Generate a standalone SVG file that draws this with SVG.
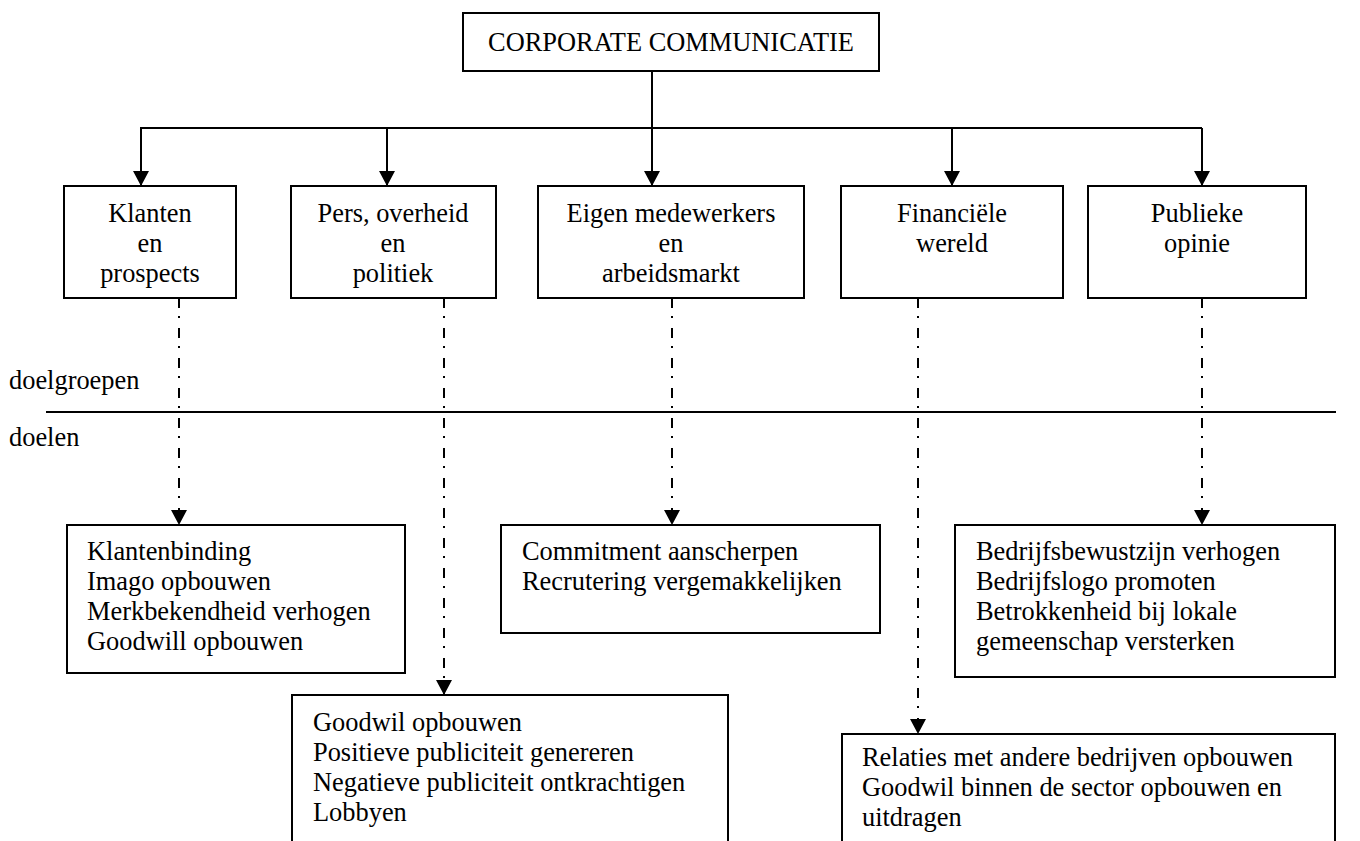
<svg xmlns="http://www.w3.org/2000/svg" width="1360" height="841" viewBox="0 0 1360 841">
<style>
  .box { fill: #fff; stroke: #000; stroke-width: 2; }
  .t { font-family: "Liberation Serif", "Times New Roman", "DejaVu Serif", serif; font-size: 26.4px; fill: #000; }
  .c { text-anchor: middle; }
  .solid { fill: none; stroke: #000; stroke-width: 2; }
  .dd { fill: none; stroke: #000; stroke-width: 2; stroke-dasharray: 10 8 2 10; }
</style>
<defs>
  <marker id="ah" markerUnits="userSpaceOnUse" markerWidth="16" markerHeight="16" refX="15" refY="8" orient="auto" viewBox="0 0 16 16">
    <path d="M0,0 L15,8 L0,16 z" fill="#000"/>
  </marker>
</defs>
<rect width="1360" height="841" fill="#fff"/>

<g id="connectors">
  <line class="solid" x1="652" y1="71" x2="652" y2="128"/>
  <line class="solid" x1="140" y1="128" x2="1202" y2="128"/>
  <line class="solid" x1="141" y1="128" x2="141" y2="186" marker-end="url(#ah)"/>
  <line class="solid" x1="387" y1="128" x2="387" y2="186" marker-end="url(#ah)"/>
  <line class="solid" x1="652" y1="128" x2="652" y2="186" marker-end="url(#ah)"/>
  <line class="solid" x1="952" y1="128" x2="952" y2="186" marker-end="url(#ah)"/>
  <line class="solid" x1="1202" y1="128" x2="1202" y2="186" marker-end="url(#ah)"/>
  <line class="dd" x1="179" y1="298" x2="179" y2="525" marker-end="url(#ah)"/>
  <line class="dd" x1="444" y1="298" x2="444" y2="695" marker-end="url(#ah)"/>
  <line class="dd" x1="672" y1="298" x2="672" y2="525" marker-end="url(#ah)"/>
  <line class="dd" x1="918" y1="298" x2="918" y2="734" marker-end="url(#ah)"/>
  <line class="dd" x1="1202" y1="298" x2="1202" y2="525" marker-end="url(#ah)"/>
</g>

<g id="separator">
  <line class="solid" x1="46" y1="412" x2="1336" y2="412"/>
  <text class="t" x="9" y="389">doelgroepen</text>
  <text class="t" x="9" y="446">doelen</text>
</g>

<g id="root">
  <rect class="box" x="463" y="13" width="416" height="58"/>
  <text class="t c" x="671" y="51">CORPORATE COMMUNICATIE</text>
</g>

<g id="klanten">
  <rect class="box" x="64" y="186" width="172" height="112"/>
  <text class="t c" x="150" y="222">Klanten</text>
  <text class="t c" x="150" y="252">en</text>
  <text class="t c" x="150" y="282">prospects</text>
</g>
<g id="pers">
  <rect class="box" x="291" y="186" width="205" height="112"/>
  <text class="t c" x="393" y="222">Pers, overheid</text>
  <text class="t c" x="393" y="252">en</text>
  <text class="t c" x="393" y="282">politiek</text>
</g>
<g id="eigen">
  <rect class="box" x="538" y="186" width="266" height="112"/>
  <text class="t c" x="671" y="222">Eigen medewerkers</text>
  <text class="t c" x="671" y="252">en</text>
  <text class="t c" x="671" y="282">arbeidsmarkt</text>
</g>
<g id="financieel">
  <rect class="box" x="841" y="186" width="222" height="112"/>
  <text class="t c" x="952" y="222">Financiële</text>
  <text class="t c" x="952" y="252">wereld</text>
</g>
<g id="publiek">
  <rect class="box" x="1088" y="186" width="218" height="112"/>
  <text class="t c" x="1197" y="222">Publieke</text>
  <text class="t c" x="1197" y="252">opinie</text>
</g>

<g id="doel-klanten">
  <rect class="box" x="67" y="525" width="338" height="148"/>
  <text class="t" x="87" y="560">Klantenbinding</text>
  <text class="t" x="87" y="590">Imago opbouwen</text>
  <text class="t" x="87" y="620">Merkbekendheid verhogen</text>
  <text class="t" x="87" y="650">Goodwill opbouwen</text>
</g>
<g id="doel-eigen">
  <rect class="box" x="501" y="525" width="379" height="108"/>
  <text class="t" x="522" y="560">Commitment aanscherpen</text>
  <text class="t" x="522" y="590">Recrutering vergemakkelijken</text>
</g>
<g id="doel-publiek">
  <rect class="box" x="955" y="525" width="380" height="152"/>
  <text class="t" x="976" y="560">Bedrijfsbewustzijn verhogen</text>
  <text class="t" x="976" y="590">Bedrijfslogo promoten</text>
  <text class="t" x="976" y="620">Betrokkenheid bij lokale</text>
  <text class="t" x="976" y="650">gemeenschap versterken</text>
</g>
<g id="doel-pers">
  <path class="solid" d="M292,842 V695 H728 V842"/>
  <text class="t" x="313" y="731">Goodwil opbouwen</text>
  <text class="t" x="313" y="761">Positieve publiciteit genereren</text>
  <text class="t" x="313" y="791">Negatieve publiciteit ontkrachtigen</text>
  <text class="t" x="313" y="821">Lobbyen</text>
</g>
<g id="doel-financieel">
  <path class="solid" d="M842,842 V734 H1335 V842"/>
  <text class="t" x="862" y="766">Relaties met andere bedrijven opbouwen</text>
  <text class="t" x="862" y="796">Goodwil binnen de sector opbouwen en</text>
  <text class="t" x="862" y="826">uitdragen</text>
</g>
</svg>
